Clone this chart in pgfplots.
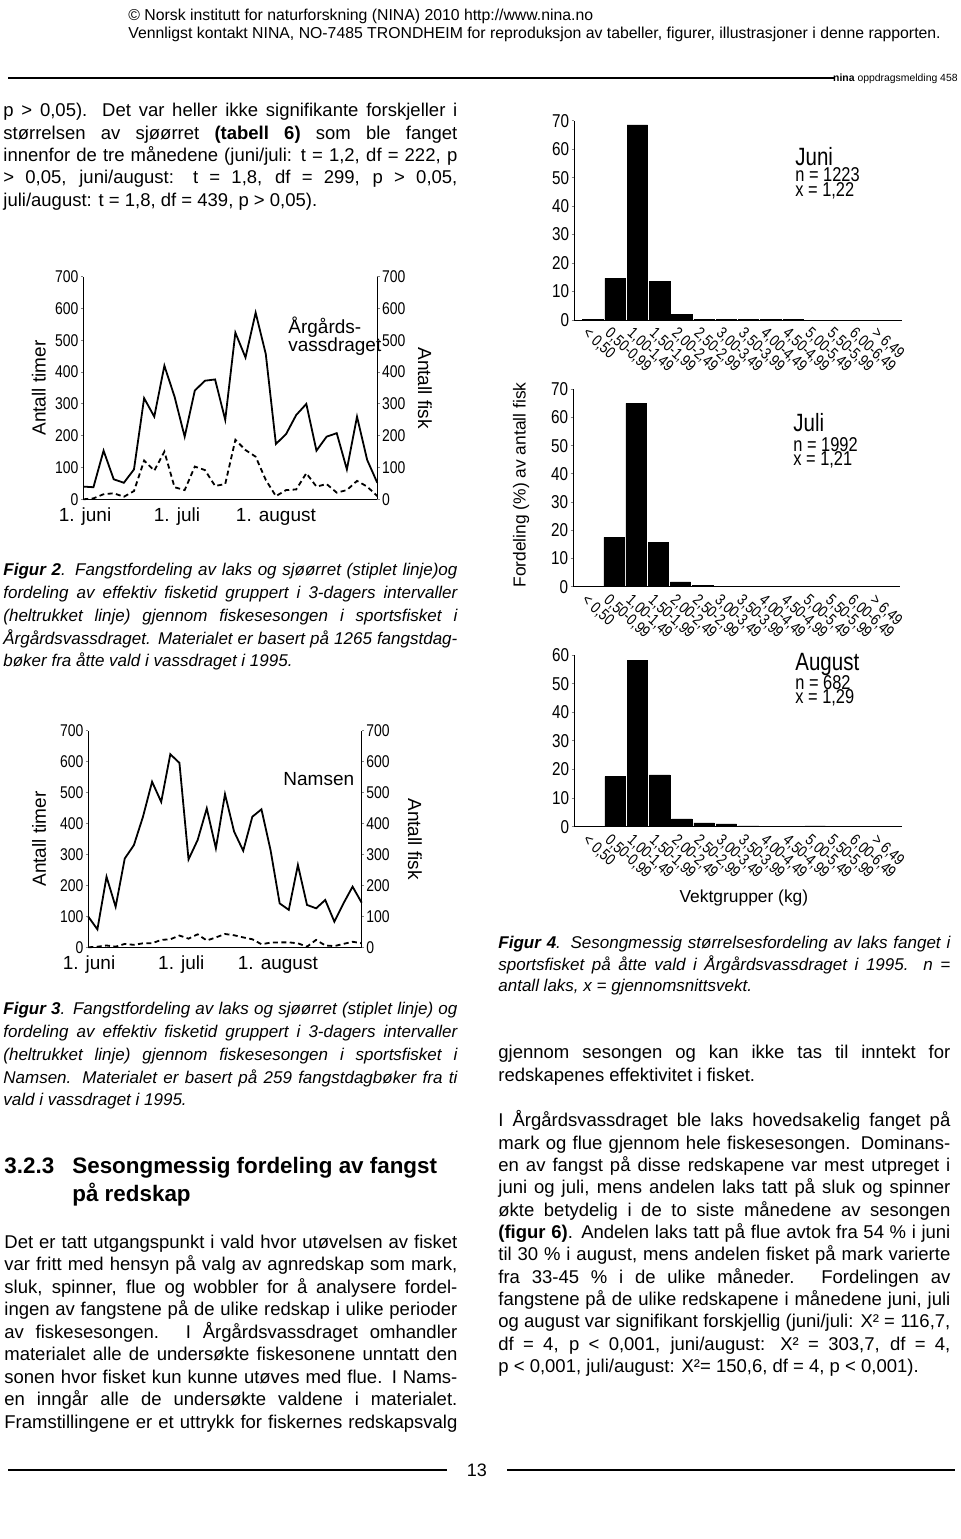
\documentclass[border=0pt]{standalone}
\usepackage{pgfplots}
\pgfplotsset{compat=1.18}
\usepackage{fontspec}
\setmainfont{Liberation Sans}
\newfontfamily\figf[FakeStretch=0.82]{Liberation Sans}

\newlength\cw
% one justified line / one natural line, placed at pixel coordinates
\newcommand\jl[3]{\node[anchor=base west,inner sep=0pt] at (#1,#2) {\hbox to \cw{#3}};}
\newcommand\nl[3]{\node[anchor=base west,inner sep=0pt] at (#1,#2) {#3};}
\newcommand\bodyf{\fontsize{9.25}{11}\selectfont}
\newcommand\capf{\fontsize{8.5}{11}\selectfont\itshape}

\pgfplotsset{
  linechart/.style={scale only axis, anchor=south west, xmin=0, ymin=0, ymax=700,
    ytick={0,100,...,700}, ytick align=outside, major tick length=1.2pt,
    axis line style={line width=0.5pt}, tick style={line width=0.5pt},
    yticklabel style={font=\figf\fontsize{8.5}{9}\selectfont, inner sep=1pt},
    /pgf/number format/assume math mode=true,
    xtick style={draw=none},
    xticklabel style={font=\fontsize{9.5}{10}\selectfont, inner sep=0pt, anchor=base, yshift=-11.2pt},
    label style={font=\fontsize{9.5}{10}\selectfont},
    clip=false},
  barchart/.style={scale only axis, anchor=south west, ybar, bar width=10.2pt,
    xmin=-0.85, xmax=13.9, ymin=0,
    axis x line*=bottom, axis y line*=left,
    axis line style={line width=0.5pt}, tick style={line width=0.5pt},
    xtick={0,...,13},
    xticklabels={{< 0,50},{0,50-0,99},{1,00-1,49},{1,50-1,99},{2,00-2,49},{2,50-2,99},{3,00-3,49},
      {3,50-3,99},{4,00-4,49},{4,50-4,99},{5,00-5,49},{5,50-5,99},{6,00-6,49},{> 6,49}},
    xtick style={draw=none},
    xticklabel style={rotate=-42, anchor=north west, inner sep=0pt, yshift=-2.5pt,
      font=\figf\fontsize{8}{8.5}\selectfont},
    ytick align=outside, major tick length=1.2pt,
    yticklabel style={font=\figf\fontsize{9.3}{10}\selectfont, inner sep=1pt},
    label style={font=\fontsize{8.7}{9}\selectfont},
    /pgf/number format/assume math mode=true, clip=false},
  barfill/.style={fill=black, draw=black, line width=0.3pt}
}

\begin{document}
\begin{tikzpicture}
\begin{scope}[x=0.5pt,y=-0.5pt]
\path[use as bounding box, fill=white] (0,0) rectangle (960,1539);

% page header
\nl{128}{20}{\fontsize{7.9}{9}\selectfont © Norsk institutt for naturforskning (NINA) 2010 http://www.nina.no}
\nl{128}{38}{\fontsize{7.9}{9}\selectfont Vennligst kontakt NINA, NO-7485 TRONDHEIM for reproduksjon av tabeller, figurer, illustrasjoner i denne rapporten.}
\draw[line width=1.2pt] (8,78) -- (835,78);
\node[anchor=base east,inner sep=0pt] at (958,81) {\fontsize{5.2}{6}\selectfont\textbf{nina} oppdragsmelding 458};

% left column, top
\setlength\cw{227pt}
\jl{3}{116.7}{\bodyf p > 0,05). Det var heller ikke signifikante forskjeller i}
\jl{3}{139}{\bodyf størrelsen av sjøørret \textbf{(tabell 6)} som ble fanget}
\jl{3}{161.3}{\bodyf innenfor de tre månedene (juni/juli: t = 1,2, df = 222, p}
\jl{3}{183.7}{\bodyf > 0,05, juni/august: t = 1,8, df = 299, p > 0,05,}
\nl{3}{206}{\bodyf juli/august: t = 1,8, df = 439, p > 0,05).}

\jl{3}{575.7}{\capf \textbf{Figur 2}. Fangstfordeling av laks og sjøørret (stiplet linje)og}
\jl{3}{598.3}{\capf fordeling av effektiv fisketid gruppert i 3-dagers intervaller}
\jl{3}{621}{\capf (heltrukket linje) gjennom fiskesesongen i sportsfisket i}
\jl{3}{644.3}{\capf Årgårdsvassdraget. Materialet er basert på 1265 fangstdag-}
\nl{3}{666.7}{\capf bøker fra åtte vald i vassdraget i 1995.}

\jl{3}{1014.3}{\capf \textbf{Figur 3}. Fangstfordeling av laks og sjøørret (stiplet linje) og}
\jl{3}{1037.3}{\capf fordeling av effektiv fisketid gruppert i 3-dagers intervaller}
\jl{3}{1060.3}{\capf (heltrukket linje) gjennom fiskesesongen i sportsfisket i}
\jl{3}{1083.3}{\capf Namsen. Materialet er basert på 259 fangstdagbøker fra ti}
\nl{3}{1105.7}{\capf vald i vassdraget i 1995.}

% section heading and text
\nl{4}{1173.3}{\fontsize{11.2}{13}\selectfont\bfseries 3.2.3}
\nl{72}{1173.3}{\fontsize{11.2}{13}\selectfont\bfseries Sesongmessig fordeling av fangst}
\nl{72}{1201.7}{\fontsize{11.2}{13}\selectfont\bfseries på redskap}

\setlength\cw{226.5pt}
\jl{4}{1248.3}{\bodyf Det er tatt utgangspunkt i vald hvor utøvelsen av fisket}
\jl{4}{1270.8}{\bodyf var fritt med hensyn på valg av agnredskap som mark,}
\jl{4}{1293.3}{\bodyf sluk, spinner, flue og wobbler for å analysere fordel-}
\jl{4}{1315.8}{\bodyf ingen av fangstene på de ulike redskap i ulike perioder}
\jl{4}{1338.3}{\bodyf av fiskesesongen. I Årgårdsvassdraget omhandler}
\jl{4}{1360.8}{\bodyf materialet alle de undersøkte fiskesonene unntatt den}
\jl{4}{1383.3}{\bodyf sonen hvor fisket kun kunne utøves med flue. I Nams-}
\jl{4}{1405.8}{\bodyf en inngår alle de undersøkte valdene i materialet.}
\jl{4}{1428.3}{\bodyf Framstillingene er et uttrykk for fiskernes redskapsvalg}

% right column
\setlength\cw{226pt}
\jl{498}{948.3}{\capf \textbf{Figur 4}. Sesongmessig størrelsesfordeling av laks fanget i}
\jl{498}{970}{\capf sportsfisket på åtte vald i Årgårdsvassdraget i 1995. n =}
\nl{498}{991.7}{\capf antall laks, x = gjennomsnittsvekt.}

\jl{498}{1058.3}{\bodyf gjennom sesongen og kan ikke tas til inntekt for}
\nl{498}{1081.7}{\bodyf redskapenes effektivitet i fisket.}

\jl{498}{1126.7}{\bodyf I Årgårdsvassdraget ble laks hovedsakelig fanget på}
\jl{498}{1149}{\bodyf mark og flue gjennom hele fiskesesongen. Dominans-}
\jl{498}{1171.3}{\bodyf en av fangst på disse redskapene var mest utpreget i}
\jl{498}{1193.7}{\bodyf juni og juli, mens andelen laks tatt på sluk og spinner}
\jl{498}{1216}{\bodyf økte betydelig i de to siste månedene av sesongen}
\jl{498}{1238.3}{\bodyf \textbf{(figur 6)}. Andelen laks tatt på flue avtok fra 54 \% i juni}
\jl{498}{1260.7}{\bodyf til 30 \% i august, mens andelen fisket på mark varierte}
\jl{498}{1283}{\bodyf fra 33-45 \% i de ulike måneder. Fordelingen av}
\jl{498}{1305.3}{\bodyf fangstene på de ulike redskapene i månedene juni, juli}
\jl{498}{1327.7}{\bodyf og august var signifikant forskjellig (juni/juli: X² = 116,7,}
\jl{498}{1350}{\bodyf df = 4, p < 0,001, juni/august: X² = 303,7, df = 4,}
\nl{498}{1372.3}{\bodyf p < 0,001, juli/august: X²= 150,6, df = 4, p < 0,001).}

% footer
\draw[line width=0.6pt] (8,1470) -- (447,1470);
\draw[line width=0.6pt] (507,1470) -- (955,1470);
\node[inner sep=0pt] at (477,1470) {\fontsize{9}{10}\selectfont 13};

% texts inside the charts
\nl{288}{333}{\fontsize{9.5}{10}\selectfont Årgårds-}
\nl{288}{351}{\fontsize{9.5}{10}\selectfont vassdraget}
\nl{283}{785}{\fontsize{9.5}{10}\selectfont Namsen}
\nl{795}{165}{\figf\fontsize{12.5}{13}\selectfont Juni}
\nl{795}{181.7}{\figf\fontsize{10}{10}\selectfont n = 1223}
\nl{795}{196.7}{\figf\fontsize{10}{10}\selectfont x = 1,22}
\nl{793}{431.7}{\figf\fontsize{12.5}{13}\selectfont Juli}
\nl{793}{451}{\figf\fontsize{10}{10}\selectfont n = 1992}
\nl{793}{465}{\figf\fontsize{10}{10}\selectfont x = 1,21}
\nl{795}{670}{\figf\fontsize{12.5}{13}\selectfont August}
\nl{795}{689}{\figf\fontsize{10}{10}\selectfont n = 682}
\nl{795}{703}{\figf\fontsize{10}{10}\selectfont x = 1,29}

% anchors of the axes (lower left corners)
\coordinate (f2) at (83.3,499.3);
\coordinate (f3) at (88.3,947.3);
\coordinate (b1) at (574,320);
\coordinate (b2) at (573,586.7);
\coordinate (b3) at (574,826.7);
\end{scope}

% Figur 2: Aargaardsvassdraget
\begin{axis}[linechart, at={(f2)}, width=147pt, height=111.3pt, xmax=29,
  axis x line*=bottom, axis y line*=left,
  xtick={0.17,9.24,19.0}, xticklabels={1. juni,1. juli,1. august},
  ylabel={Antall timer}, ylabel style={at={(axis description cs:-0.151,0.5)}, anchor=center}]
\addplot[line width=0.9pt] coordinates {
(0,40) (1,38) (2,153) (3,63) (4,52) (5,94) (6,318) (7,260) (8,420) (9,323)
(10,197) (11,342) (12,373) (13,377) (14,250) (15,524) (16,446) (17,587) (18,457) (19,174)
(20,205) (21,265) (22,300) (23,153) (24,197) (25,208) (26,94) (27,260) (28,124) (29,52)};
\end{axis}
\begin{axis}[linechart, at={(f2)}, width=147pt, height=111.3pt, xmax=29,
  axis x line=none, axis y line*=right,
  ylabel={Antall fisk}, ylabel style={at={(axis description cs:1.162,0.5)}, anchor=center, rotate=180}]
\addplot[line width=0.9pt, dash pattern=on 2.5pt off 1.7pt] coordinates {
(0,0) (1,3) (2,16) (3,19) (4,8) (5,26) (6,122) (7,90) (8,150) (9,38)
(10,29) (11,103) (12,92) (13,42) (14,48) (15,187) (16,155) (17,134) (18,61) (19,10)
(20,29) (21,31) (22,82) (23,40) (24,48) (25,21) (26,29) (27,58) (28,40) (29,10)};
\end{axis}

% Figur 3: Namsen
\begin{axis}[linechart, at={(f3)}, width=136.7pt, height=108.3pt, xmax=30,
  axis x line*=bottom, axis y line*=left,
  xtick={0.08,10.2,20.8}, xticklabels={1. juni,1. juli,1. august},
  ylabel={Antall timer}, ylabel style={at={(axis description cs:-0.18,0.5)}, anchor=center}]
\addplot[line width=0.9pt] coordinates {
(0,99) (1,58) (2,228) (3,131) (4,287) (5,330) (6,422) (7,535) (8,470) (9,624)
(10,596) (11,284) (12,347) (13,449) (14,320) (15,495) (16,374) (17,312) (18,422) (19,446)
(20,314) (21,142) (22,121) (23,266) (24,137) (25,126) (26,153) (27,83) (28,142) (29,196) (30,144)};
\end{axis}
\begin{axis}[linechart, at={(f3)}, width=136.7pt, height=108.3pt, xmax=30,
  axis x line=none, axis y line*=right,
  ylabel={Antall fisk}, ylabel style={at={(axis description cs:1.195,0.5)}, anchor=center, rotate=180}]
\addplot[line width=0.9pt, dash pattern=on 2.5pt off 1.7pt] coordinates {
(0,0) (1,2) (2,6) (3,2) (4,11) (5,8) (6,13) (7,13) (8,24) (9,26)
(10,38) (11,28) (12,42) (13,22) (14,32) (15,43) (16,39) (17,32) (18,26) (19,10)
(20,15) (21,16) (22,16) (23,13) (24,2) (25,24) (26,6) (27,4) (28,11) (29,18) (30,13)};
\end{axis}

% Figur 4: Juni
\begin{axis}[barchart, at={(b1)}, width=164pt, height=99.65pt, ymax=70, ytick={0,10,...,70}]
\addplot[barfill] coordinates {(0,0.3) (1,14.6) (2,68.5) (3,13.6) (4,2.1) (5,0.2) (6,0.2)
(7,0.1) (8,0.1) (9,0.1) (10,0) (11,0) (12,0) (13,0)};
\end{axis}

% Figur 4: Juli
\begin{axis}[barchart, at={(b2)}, width=163.5pt, height=98.7pt, ymax=70, ytick={0,10,...,70},
  ylabel={Fordeling (\%) av antall fisk},
  ylabel style={at={(axis description cs:-0.159,0.515)}, anchor=center}]
\addplot[barfill] coordinates {(0,0.2) (1,17.5) (2,65.0) (3,15.7) (4,1.7) (5,0.5) (6,0.2)
(7,0.1) (8,0) (9,0) (10,0) (11,0) (12,0) (13,0)};
\end{axis}

% Figur 4: August
\begin{axis}[barchart, at={(b3)}, width=164pt, height=85.85pt, ymax=60, ytick={0,10,...,60},
  xlabel={Vektgrupper (kg)},
  xlabel style={at={(axis description cs:0.518,-0.415)}, anchor=center}]
\addplot[barfill] coordinates {(0,0.2) (1,17.5) (2,58.0) (3,18.1) (4,2.7) (5,1.3) (6,1.0)
(7,0.3) (8,0.1) (9,0.1) (10,0.3) (11,0) (12,0) (13,0)};
\end{axis}
\end{tikzpicture}
\end{document}
